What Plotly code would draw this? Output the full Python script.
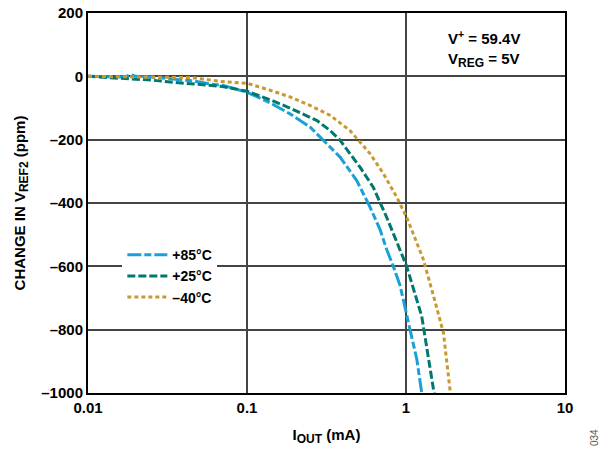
import plotly.graph_objects as go

# +85°C
x85 = [0.01, 0.013, 0.017, 0.0186, 0.02, 0.026, 0.035, 0.045, 0.06, 0.07, 0.1, 0.14, 0.186, 0.249,
       0.302, 0.385, 0.49, 0.594, 0.686, 0.756, 0.832, 0.917, 1.06, 1.17, 1.256]
y85 = [0, -1, -2, 5, 0, -3, -10, -14, -25, -28, -50, -84, -118, -160,
       -202, -255, -329, -413, -483, -547, -600, -660, -800, -894, -1000]
# +25°C
x25 = [0.01, 0.015, 0.0186, 0.025, 0.037, 0.05, 0.07, 0.1, 0.14, 0.186, 0.274, 0.333, 0.385,
       0.514, 0.622, 0.756, 0.917, 1.01, 1.256, 1.38, 1.49, 1.51]
y25 = [0, -5, -10, -12, -20, -25, -32, -47, -74, -100, -139, -171, -202,
       -287, -350, -445, -545, -600, -758, -894, -990, -1000]
# -40°C
xm40 = [0.01, 0.02, 0.03, 0.045, 0.068, 0.1, 0.14, 0.186, 0.249, 0.333, 0.444, 0.514, 0.594,
        0.72, 0.873, 1.01, 1.225, 1.285, 1.49, 1.72, 1.89, 1.9]
ym40 = [0, -1, -2, -4, -16, -22, -44, -65, -92, -123, -171, -208, -244,
        -307, -381, -445, -547, -578, -694, -810, -989, -1000]

yticks = [200, 0, -200, -400, -600, -800, -1000]
yticklabels = ["200", "0", "–200", "–400", "–600", "–800", "–1000"]
xticks = [0.01, 0.1, 1, 10]
xticklabels = ["0.01", "0.1", "1", "10"]

FONT = "Liberation Sans, Arial, sans-serif"
SUB = '<sub><span style="font-size:12px">{}</span></sub>'

fig = go.Figure()
fig.add_trace(go.Scatter(x=x85, y=y85, mode="lines", name="<b>+85°C</b>",
                         line=dict(color="#1AA0D8", width=3, dash="14px,3px,7px,3px")))
fig.add_trace(go.Scatter(x=x25, y=y25, mode="lines", name="<b>+25°C</b>",
                         line=dict(color="#00786E", width=3, dash="8px,3px")))
fig.add_trace(go.Scatter(x=xm40, y=ym40, mode="lines", name="<b>–40°C</b>",
                         line=dict(color="#C9992F", width=3, dash="4px,3px")))

fig.update_layout(
    width=604, height=450,
    margin=dict(l=88, r=39, t=13, b=57, autoexpand=False),
    paper_bgcolor="white", plot_bgcolor="white",
    font=dict(family=FONT, size=14, color="black"),
    showlegend=True,
    legend=dict(x=0.072, y=0.405, xanchor="left", yanchor="top",
                bgcolor="white", font=dict(family=FONT, size=14, color="black"),
                tracegroupgap=0, itemwidth=40),
    xaxis=dict(type="log", range=[-2, 1], tickvals=xticks,
               ticktext=["<b>" + t + "</b>" for t in xticklabels],
               showgrid=True, gridcolor="#444444", gridwidth=1.5, automargin=False,
               showline=True, linecolor="black", linewidth=2, mirror=True,
               ticks="", tickfont=dict(family=FONT, size=15, color="black"),
               title=dict(text="<b>I" + SUB.format("OUT") + " (mA)</b>",
                          font=dict(family=FONT, size=15), standoff=14)),
    yaxis=dict(range=[-1000, 200], tickvals=yticks,
               ticktext=["<b>" + t + "</b>" for t in yticklabels],
               showgrid=True, gridcolor="#444444", gridwidth=1.5, zeroline=False, automargin=False,
               showline=True, linecolor="black", linewidth=2, mirror=True,
               ticks="", tickfont=dict(family=FONT, size=15, color="black"),
               title=dict(text="<b>CHANGE IN V" + SUB.format("REF2") + " (ppm)</b>",
                          font=dict(family=FONT, size=15), standoff=12)),
)

fig.add_annotation(x=0.83, y=0.966, xref="paper", yref="paper", xanchor="center", yanchor="top",
                   text="<b>V<sup>+</sup> = 59.4V<br>V" + SUB.format("REG") + " = 5V</b>",
                   showarrow=False, align="left",
                   font=dict(family=FONT, size=15, color="black"))
fig.add_annotation(x=(594 - 88) / 477, y=(393 - 438) / 380, xref="paper", yref="paper",
                   xanchor="center", yanchor="middle", text="034", showarrow=False, textangle=-90,
                   font=dict(family=FONT, size=10, color="#555555"))

fig.write_html("out.html", config={"displayModeBar": False},
               post_script="document.body.style.margin='0';")
